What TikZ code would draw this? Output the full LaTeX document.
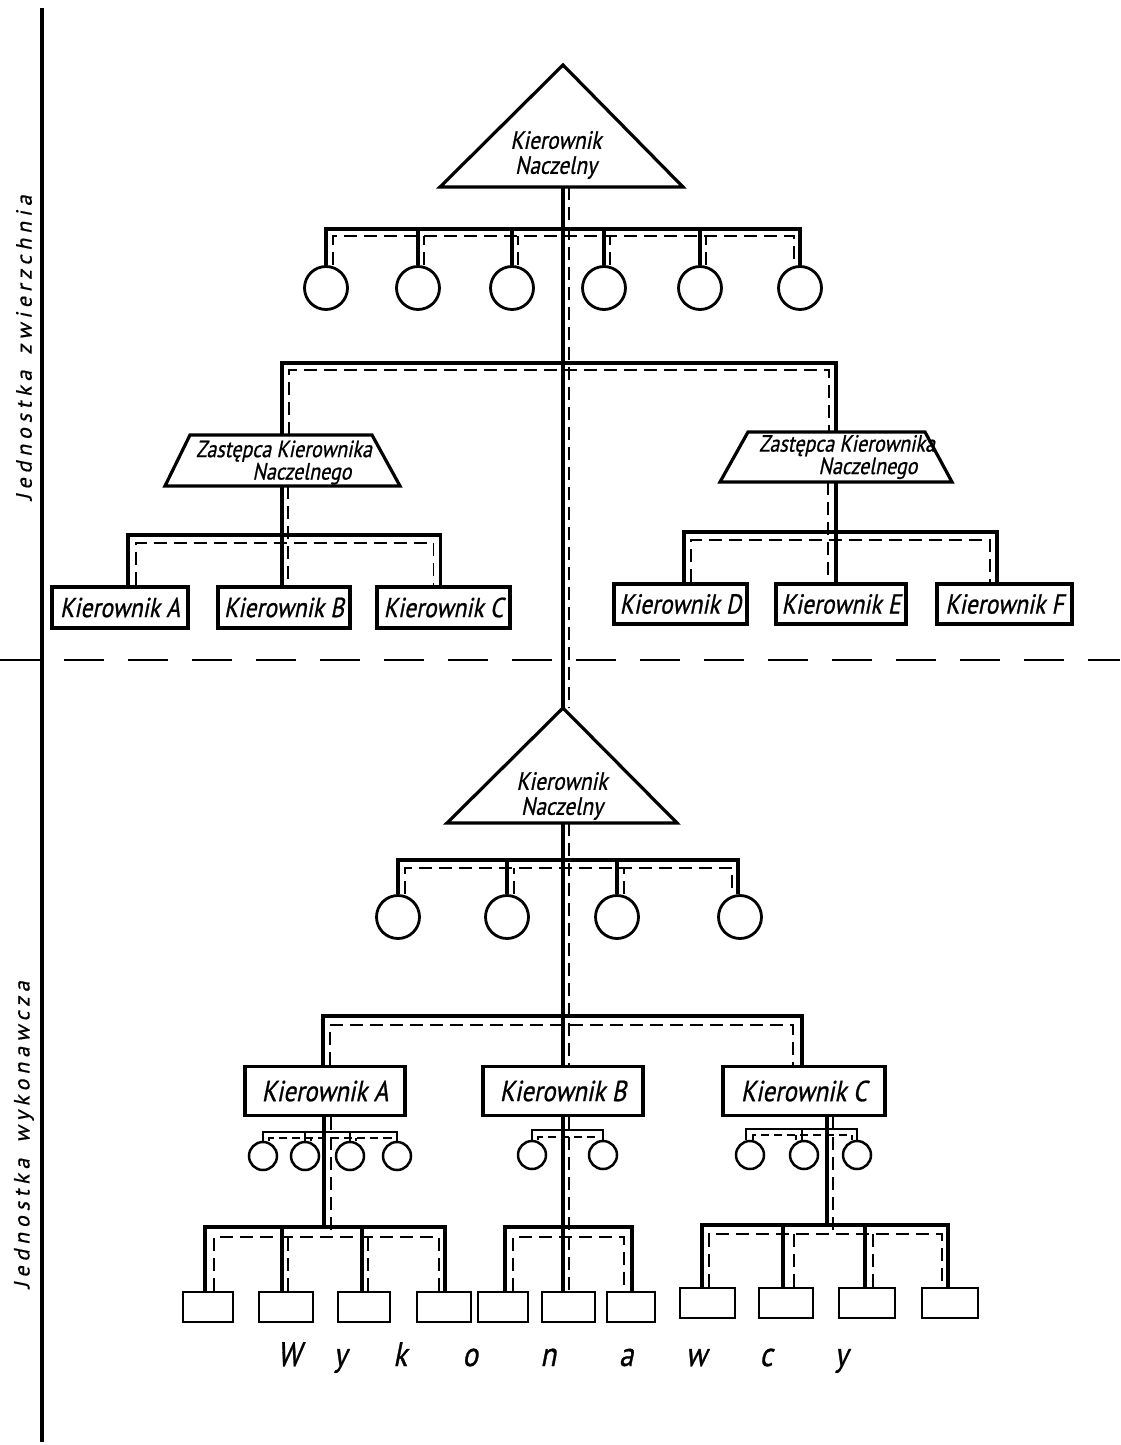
\documentclass[tikz,border=0pt]{standalone}
\usepackage{fontspec}
\usetikzlibrary{shapes.geometric}
\newfontfamily\hand[FakeSlant=0.2,FakeStretch=0.85,FakeBold=0.8]{PT Sans}
\newfontfamily\sidefont[FakeSlant=0.2,LetterSpace=22,FakeBold=0.6]{PT Sans}
\begin{document}
\begin{tikzpicture}[x=1pt,y=-1pt,
  sl/.style={line width=3.2pt},
  ssl/.style={line width=2.6pt},
  dl/.style={line width=1.8pt, dash pattern=on 13pt off 7pt},
  sdl/.style={line width=1.6pt, dash pattern=on 8pt off 5pt},
  shp/.style={line width=3.2pt, line join=miter},
  mbox/.style={draw, line width=3.4pt, rectangle, inner sep=0pt, font=\hand\fontsize{27.5}{27}\selectfont},
  lbox/.style={mbox, font=\hand\fontsize{29}{28}\selectfont},
  circ/.style={draw, circle, line width=2.8pt, minimum size=43pt, inner sep=0pt},
  scirc/.style={draw, circle, line width=2.5pt, minimum size=28pt, inner sep=0pt},
  wbox/.style={draw, line width=2.8pt, rectangle, inner sep=0pt, minimum height=30pt},
  lbl/.style={font=\hand\fontsize{25}{25}\selectfont, align=center, inner sep=0pt},
  zlbl/.style={font=\hand\fontsize{23.5}{20}\selectfont, align=center, inner sep=0pt},
  side/.style={rotate=90, font=\sidefont\fontsize{22}{22}\selectfont, inner sep=0pt},
]
\useasboundingbox (0,0) rectangle (1120,1445);
\fill[white] (0,0) rectangle (1120,1445);

% left vertical line and separator
\coordinate (vtop) at (42,8);
\coordinate (vbot) at (42,1442);
\draw[line width=3.2pt] (vtop) -- (vbot);
\coordinate (sepL) at (0,660);
\coordinate (sepR) at (1120,660);
\draw[line width=2.4pt, dash pattern=on 40pt off 24pt] (sepL) -- (sepR);

% side labels
\node[side] (lab1) at (24,348) {Jednostka\hspace{16pt}zwierzchnia};
\node[side] (lab2) at (24,1135) {Jednostka\hspace{16pt}wykonawcza};

% ---------- upper triangle ----------
\coordinate (t1top) at (563,65);
\coordinate (t1l) at (440,187);
\coordinate (t1r) at (683,187);
\coordinate (t1) at (563,187);
\draw[shp] (t1top) -- (t1r) -- (t1l) -- cycle;
\node[lbl] (t1txt) at (556,155) {Kierownik\\Naczelny};

% ---------- lower triangle ----------
\coordinate (t2top) at (563,708);
\coordinate (t2l) at (447,823);
\coordinate (t2r) at (677,823);
\coordinate (t2) at (563,823);
\draw[shp] (t2top) -- (t2r) -- (t2l) -- cycle;
\node[lbl] (t2txt) at (562,796) {Kierownik\\Naczelny};

% main stem between triangles
\draw[sl] (t1) -- (t2top);
\draw[dl] ([xshift=6pt]t1) -- ([xshift=6pt]t2top);

% ---------- upper circles ----------
\foreach \i/\x in {1/326,2/418,3/512,4/604,5/700,6/800}
  \node[circ] (c\i) at (\x,288) {};
\coordinate (b1) at (563,229);
\coordinate (b1d) at (563,236);
\draw[sl] (c1.north) |- (b1) -| (c6.north);
\draw[dl] ([xshift=7pt]c1.north) |- (b1d) -| ([xshift=-6pt]c6.north);
\foreach \i in {2,...,5} {
  \draw[sl] (c\i.north) -- (c\i.north |- b1);
  \draw[dl] ([xshift=6pt]c\i.north) -- ([xshift=6pt]c\i.north |- b1d);
}

% ---------- deputies (trapezoids) ----------
\draw[shp] (190,435) -- (372,435) -- (400,486) -- (165,486) -- cycle;
\draw[shp] (748,432) -- (925,432) -- (952,482) -- (720,482) -- cycle;
\coordinate (z1n) at (282,435);
\coordinate (z1s) at (282,486);
\coordinate (z2n) at (836,432);
\coordinate (z2s) at (836,482);
\node[zlbl] (z1t) at (284,462.5) {Zastępca Kierownika\\\hspace*{36pt}Naczelnego};
\node[zlbl] (z2t) at (847,457) {Zastępca Kierownika\\\hspace*{42pt}Naczelnego};
\coordinate (b2) at (563,363);
\coordinate (b2d) at (563,370);
\draw[sl] (z1n) |- (b2) -| (z2n);
\draw[dl] ([xshift=7pt]z1n) |- (b2d) -| ([xshift=-7pt]z2n);

% ---------- boxes A B C (upper) ----------
\node[mbox, minimum width=136pt, minimum height=41pt] (ka) at (120,607.5) {Kierownik A};
\node[mbox, minimum width=132pt, minimum height=41pt] (kb) at (284,607.5) {Kierownik B};
\node[mbox, minimum width=133pt, minimum height=41pt] (kc) at (443.5,607.5) {Kierownik C};
\coordinate (b3) at (282,535);
\coordinate (b3d) at (282,543);
\draw[sl] ([xshift=8pt]ka.north) |- (b3) -| ([xshift=-3pt]kc.north);
\draw[sl] (z1s) -- ([xshift=-2pt]kb.north);
\draw[dl] ([xshift=16pt]ka.north) |- (b3d) -| ([xshift=-10pt]kc.north);
\draw[dl] ([xshift=6pt]z1s) -- ([xshift=4pt]kb.north);

% ---------- boxes D E F (upper) ----------
\node[mbox, minimum width=133pt, minimum height=40pt] (kd) at (680.5,604) {Kierownik D};
\node[mbox, minimum width=130pt, minimum height=40pt] (ke) at (841,604) {Kierownik E};
\node[mbox, minimum width=135pt, minimum height=40pt] (kf) at (1004.5,604) {Kierownik F};
\coordinate (b4) at (836,532);
\coordinate (b4d) at (836,540);
\draw[sl] ([xshift=3.5pt]kd.north) |- (b4) -| ([xshift=-7.5pt]kf.north);
\draw[sl] (z2s) -- ([xshift=-5pt]ke.north);
\draw[dl] ([xshift=10.5pt]kd.north) |- (b4d) -| ([xshift=-14.5pt]kf.north);
\draw[dl] ([xshift=-8pt]z2s) -- ([xshift=-13pt]ke.north);

% ---------- lower circles ----------
\foreach \i/\x in {1/398,2/507,3/617,4/740}
  \node[circ] (d\i) at (\x,917) {};
\coordinate (b5) at (563,860);
\coordinate (b5d) at (563,868);
\draw[sl] (d1.north) |- (b5) -| ([xshift=-2pt]d4.north);
\draw[dl] ([xshift=7pt]d1.north) |- (b5d) -| ([xshift=-8pt]d4.north);
\foreach \i in {2,3} {
  \draw[sl] (d\i.north) -- (d\i.north |- b5);
  \draw[dl] ([xshift=7pt]d\i.north) -- ([xshift=7pt]d\i.north |- b5d);
}

% ---------- boxes A B C (lower) ----------
\node[lbox, minimum width=160pt, minimum height=49pt] (la) at (325,1091) {Kierownik A};
\node[lbox, minimum width=160pt, minimum height=49pt] (lb) at (563,1091) {Kierownik B};
\node[lbox, minimum width=162pt, minimum height=49pt] (lc) at (804,1091) {Kierownik C};
\draw[sl] (t2) -- (lb.north);
\draw[dl] ([xshift=6pt]t2) -- ([xshift=6pt]lb.north);
\coordinate (b6) at (563,1016);
\coordinate (b6d) at (563,1025);
\draw[sl] ([xshift=-2pt]la.north) |- (b6) -| ([xshift=-2pt]lc.north);
\draw[dl] ([xshift=5pt]la.north) |- (b6d) -| ([xshift=-11pt]lc.north);

% ---------- group A below ----------
\foreach \i/\x in {1/263,2/305,3/350,4/397}
  \node[scirc] (e\i) at (\x,1156) {};
\coordinate (b7) at (324,1132);
\coordinate (b7d) at (324,1138);
\draw[ssl] (e1.north) |- (b7) -| (e4.north);
\draw[sdl] ([xshift=6pt]e1.north) |- (b7d) -| ([xshift=-6pt]e4.north);
\foreach \i in {2,3} {
  \draw[ssl] (e\i.north) -- (e\i.north |- b7);
  \draw[sdl] ([xshift=6pt]e\i.north) -- ([xshift=6pt]e\i.north |- b7d);
}
\foreach \i/\x/\w in {1/208/50,2/286/54,3/364/52,4/444/54}
  \node[wbox, minimum width=\w pt] (wa\i) at (\x,1307) {};
\coordinate (b8) at (324,1227);
\coordinate (b8d) at (324,1237);
\draw[sl] ([xshift=-1pt]la.south) -- ([xshift=-1pt]la.south |- b8);
\draw[dl] ([xshift=6pt]la.south) -- ([xshift=6pt]la.south |- b8d);
\draw[sl] ([xshift=-3pt]wa1.north) |- (b8) -| ([xshift=1pt]wa4.north);
\draw[dl] ([xshift=6pt]wa1.north) |- (b8d) -| ([xshift=-5pt]wa4.north);
\draw[sl] ([xshift=-4pt]wa2.north) -- ([xshift=-4pt]wa2.north |- b8);
\draw[sl] ([xshift=-2pt]wa3.north) -- ([xshift=-2pt]wa3.north |- b8);
\draw[dl] ([xshift=2pt]wa2.north) -- ([xshift=2pt]wa2.north |- b8d);
\draw[dl] ([xshift=4pt]wa3.north) -- ([xshift=4pt]wa3.north |- b8d);

% ---------- group B below ----------
\node[scirc] (f1) at (532,1155) {};
\node[scirc] (f2) at (603,1155) {};
\coordinate (b9) at (563,1130);
\coordinate (b9d) at (563,1137);
\draw[ssl] (f1.north) |- (b9) -| (f2.north);
\draw[sdl] ([xshift=6pt]f1.north) |- (b9d) -| ([xshift=-6pt]f2.north);
\foreach \i/\x/\w in {1/503/50,2/568.5/53,3/631/48}
  \node[wbox, minimum width=\w pt] (wb\i) at (\x,1307) {};
\coordinate (b10) at (563,1227);
\coordinate (b10d) at (563,1237);
\draw[sl] (lb.south) -- (lb.south |- wb2.north);
\draw[dl] ([xshift=6pt]lb.south) -- ([xshift=6pt]lb.south |- wb2.north);
\draw[sl] ([xshift=2pt]wb1.north) |- (b10) -| ([xshift=1pt]wb3.north);
\draw[dl] ([xshift=10pt]wb1.north) |- (b10d) -| ([xshift=-7pt]wb3.north);

% ---------- group C below ----------
\foreach \i/\x in {1/750,2/804,3/857}
  \node[scirc] (g\i) at (\x,1155) {};
\coordinate (b11) at (827,1129);
\coordinate (b11d) at (827,1135);
\draw[ssl] ([xshift=-4pt]g1.north) |- (b11) -| (g3.north);
\draw[ssl] ([xshift=-2pt]g2.north) -- ([xshift=-2pt]g2.north |- b11);
\draw[sdl] ([xshift=3pt]g1.north) |- (b11d) -| ([xshift=-5pt]g3.north);
\draw[sdl] ([xshift=-8pt]g2.north) -- ([xshift=-8pt]g2.north |- b11d);
\foreach \i/\x/\w in {1/707.5/55,2/786/54,3/867/56,4/950/56}
  \node[wbox, minimum width=\w pt] (wc\i) at (\x,1303) {};
\coordinate (b12) at (827,1225);
\coordinate (b12d) at (827,1234);
\draw[sl] ([xshift=23pt]lc.south) -- ([xshift=23pt]lc.south |- b12);
\draw[dl] ([xshift=29pt]lc.south) -- ([xshift=29pt]lc.south |- b12d);
\draw[sl] ([xshift=-5.5pt]wc1.north) |- (b12) -| ([xshift=-2pt]wc4.north);
\draw[dl] ([xshift=1.5pt]wc1.north) |- (b12d) -| ([xshift=-8pt]wc4.north);
\draw[sl] ([xshift=-3pt]wc2.north) -- ([xshift=-3pt]wc2.north |- b12);
\draw[sl] ([xshift=-2pt]wc3.north) -- ([xshift=-2pt]wc3.north |- b12);
\draw[dl] ([xshift=8pt]wc2.north) -- ([xshift=8pt]wc2.north |- b12d);
\draw[dl] ([xshift=6pt]wc3.north) -- ([xshift=6pt]wc3.north |- b12d);

% ---------- Wykonawcy ----------
\node[font=\hand\fontsize{34}{34}\selectfont, anchor=base west, inner sep=0pt] (wyk) at (289,1366)
  {\makebox[0pt]{W}\hspace{51pt}\makebox[0pt]{y}\hspace{60pt}\makebox[0pt]{k}\hspace{70pt}\makebox[0pt]{o}\hspace{78pt}\makebox[0pt]{n}\hspace{78pt}\makebox[0pt]{a}\hspace{70pt}\makebox[0pt]{w}\hspace{70pt}\makebox[0pt]{c}\hspace{75pt}\makebox[0pt]{y}};
\end{tikzpicture}
\end{document}
